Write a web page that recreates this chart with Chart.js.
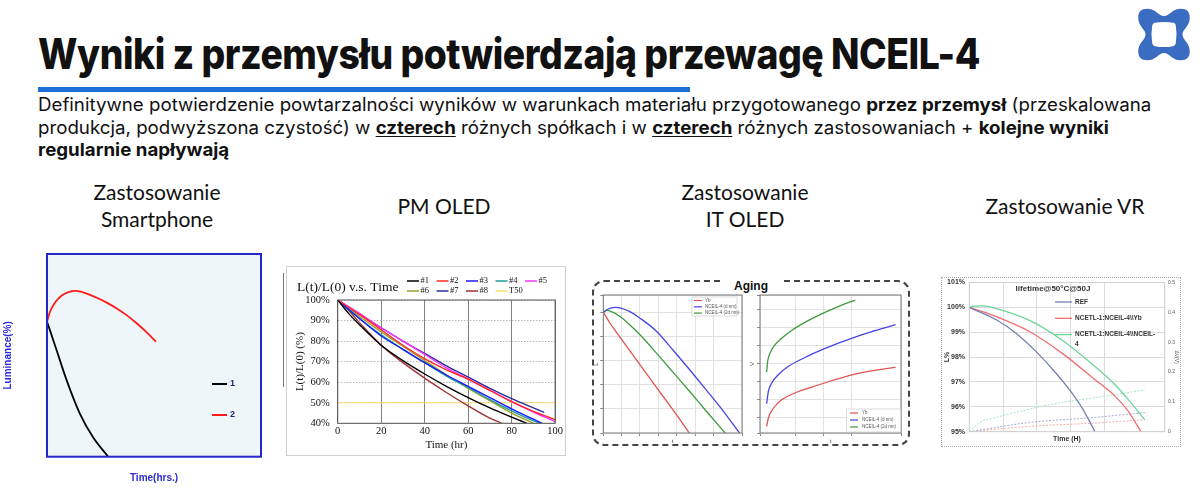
<!DOCTYPE html>
<html>
<head>
<meta charset="utf-8">
<script src="https://cdn.jsdelivr.net/npm/chart.js@4.4.1/dist/chart.umd.min.js"></script>
<style>
  html, body { margin: 0; padding: 0; background: #fff; }
  body { width: 1200px; height: 494px; position: relative; overflow: hidden; font-family: Inter, "Noto Sans", sans-serif; color: #111; }
  .abs { position: absolute; }
  #title { left: 38px; top: 28px; font-size: 42px; font-weight: 800; line-height: 52px; white-space: nowrap; letter-spacing: -0.5px; transform-origin: 0 0; }
  #bar { left: 38px; top: 87px; width: 652px; height: 5px; background: #1f6fd9; }
  .sub { left: 38px; font-size: 18px; line-height: 22px; white-space: nowrap; transform-origin: 0 0; }
  .sub b { font-weight: 700; }
  .sub u { font-weight: 700; text-decoration: underline; text-underline-offset: 2px; }
  .hd { font-family: Lato, "Open Sans", sans-serif; font-size: 21px; line-height: 27px; text-align: center; width: 240px; color: #111; }
  canvas { position: absolute; }
  #card2 { left: 286px; top: 266px; width: 278px; height: 188px; border: 1px solid #d0d0d0; }
  #aging { left: 592px; top: 280px; width: 314px; height: 162px; border: 2px dashed #444; border-radius: 12px; }
  #agingT { left: 721px; top: 279px; width: 60px; text-align: center; font: bold 12px "Liberation Sans", Arial, sans-serif; background: #fff; line-height: 14px; }
  #card4 { left: 941px; top: 277px; width: 238px; height: 168px; border: 1px dotted #aaa; }
</style>
</head>
<body>

<div id="title" class="abs">Wyniki z przemysłu potwierdzają przewagę NCEIL-4</div>
<div id="bar" class="abs"></div>
<svg class="abs" style="left:1136px;top:6px" width="56" height="57" viewBox="0 0 100 100">
  <path fill="#3a6cc2" fill-rule="evenodd" d="M20 4 C36 4 40 17 50 17 C60 17 64 4 80 4 C91 4 96 9 96 20 C96 36 83 40 83 50 C83 60 96 64 96 80 C96 91 91 96 80 96 C64 96 60 83 50 83 C40 83 36 96 20 96 C9 96 4 91 4 80 C4 64 17 60 17 50 C17 40 4 36 4 20 C4 9 9 4 20 4 Z M33 29 Q50 26 67 29 Q71 30 71 34 Q74 50 71 66 Q70 70 66 71 Q50 74 34 71 Q30 70 29 66 Q26 50 29 34 Q30 30 33 29 Z"/>
</svg>

<div id="s1" class="abs sub" style="top:94px">Definitywne potwierdzenie powtarzalności wyników w warunkach materiału przygotowanego <b>przez przemysł</b> (przeskalowana</div>
<div id="s2" class="abs sub" style="top:117px">produkcja, podwyższona czystość) w <u>czterech</u> różnych spółkach i w <u>czterech</u> różnych zastosowaniach + <b>kolejne wyniki</b></div>
<div id="s3" class="abs sub" style="top:139px"><b>regularnie napływają</b></div>

<div class="abs hd" style="left:37px;top:178px">Zastosowanie<br>Smartphone</div>
<div class="abs hd" style="left:324px;top:192px">PM OLED</div>
<div class="abs hd" style="left:625px;top:178px">Zastosowanie<br>IT OLED</div>
<div class="abs hd" style="left:945px;top:192px">Zastosowanie VR</div>

<div class="abs" style="left:283px;top:273px;width:1px;height:114px;background:#777"></div>
<div id="card2" class="abs"></div>
<div id="aging" class="abs"></div>
<div id="card4" class="abs"></div>

<canvas id="c1" width="275" height="250" style="left:0;top:240px"></canvas>
<canvas id="c2" width="278" height="188" style="left:287px;top:267px"></canvas>
<canvas id="c3a" width="156" height="158" style="left:592px;top:288px"></canvas>
<canvas id="c3b" width="160" height="158" style="left:748px;top:288px"></canvas>
<canvas id="c4" width="238" height="172" style="left:942px;top:274px"></canvas>
<div id="agingT" class="abs">Aging</div>

<script>
//----- Data -----//

// Smartphone (luminance % vs time, arbitrary time units)
const smartTime1 = [0, 1.4, 4.5, 9.2, 15.4, 21.6, 28.6];
const smartLum1 = [100, 97.4, 91.5, 82.6, 72.7, 65.7, 60];
const smartTime2 = [0, 1.4, 3.7, 6.9, 10.0, 13.2, 16.2, 20.1, 24.8, 27.9, 32.6, 37.2, 41.9, 46.6, 50.9];
const smartLum2 = [100, 102.9, 105.6, 107.7, 108.7, 109.1, 108.8, 107.9, 106.6, 105.6, 103.9, 101.9, 99.5, 96.8, 94.0];

// PM OLED, L(t)/L(0) in % vs time (hr)
const pmLabels = ['#1', '#2', '#3', '#4', '#5', '#6', '#7', '#8'];
const pmTime1 = [0, 5, 10, 20, 30, 40, 50, 60, 70, 80, 87];
const pmVal1 = [100, 93.5, 88, 78, 70.5, 64, 58, 52.5, 47.5, 43, 40];
const pmTime2 = [0, 10, 20, 30, 40, 50, 60, 70, 80, 90, 100];
const pmVal2 = [100, 93, 85.5, 78, 71.5, 66, 61.5, 56, 50.5, 45.8, 41.8];
const pmTime3 = [0, 10, 20, 30, 40, 50, 60, 70, 80, 90, 94];
const pmVal3 = [100, 91, 82.5, 76, 69.5, 63.5, 58, 52.5, 47, 42, 40];
const pmTime4 = [0, 10, 20, 30, 40, 50, 60, 70, 80, 90, 93.5];
const pmVal4 = [100, 91, 83, 76, 69.5, 63, 57.5, 51.5, 46, 41.2, 40];
const pmTime5 = [0, 10, 20, 30, 40, 50, 60, 70, 80, 90, 100];
const pmVal5 = [100, 93.5, 86.5, 80, 73.5, 67, 61.5, 56, 50.5, 45.5, 40.8];
const pmTime6 = [0, 10, 20, 30, 40, 50, 60, 70, 80, 90];
const pmVal6 = [100, 92, 84.5, 77.5, 70.5, 63.5, 57, 51, 45, 40];
const pmTime7 = [0, 10, 20, 30, 40, 50, 60, 70, 80, 90, 95];
const pmVal7 = [100, 93, 86.5, 80, 74, 68, 62.5, 57, 52, 47.5, 45.3];
const pmTime8 = [0, 5, 10, 20, 30, 40, 50, 60, 70, 75.5];
const pmVal8 = [100, 95, 89, 78, 69.5, 62, 55, 48.5, 42.5, 40];
const pmT50Time = [0, 100];
const pmT50 = [50, 50];

// IT OLED aging: L vs t and V vs t (no units shown)
const agingLabels = ['Yb', 'NCEIL-4 (d nm)', 'NCEIL-4 (2d nm)'];
const ageLTimeYb = [0, 0.36, 0.73, 1.45, 2.18, 2.91, 3.64, 4.18, 4.69];
const ageLYb = [5.0, 4.56, 4.16, 3.40, 2.64, 1.88, 1.12, 0.55, 0];
const ageLTimeD = [0, 0.27, 0.64, 1, 1.45, 2, 2.91, 3.82, 4.73, 5.64, 6.55, 7.42];
const ageLD = [5.0, 5.14, 5.21, 5.17, 5.03, 4.76, 4.21, 3.42, 2.6, 1.76, 0.9, 0];
const ageLTime2D = [0, 0.18, 0.45, 0.91, 1.45, 2, 2.91, 3.82, 4.73, 5.64, 6.64];
const ageL2D = [5.0, 5.08, 5.03, 4.83, 4.48, 4.07, 3.3, 2.5, 1.7, 0.88, 0];
const ageVTimeYb = [0, 0.06, 0.24, 0.53, 1, 1.59, 2.18, 2.76, 3.35, 3.94, 4.55];
const ageVYb = [0.54, 1.0, 1.55, 2.01, 2.38, 2.7, 3.0, 3.27, 3.5, 3.66, 3.79];
const ageVTimeD = [0, 0.06, 0.18, 0.41, 0.76, 1.35, 1.94, 2.53, 3.12, 3.71, 4.29, 4.55];
const ageVD = [1.79, 2.47, 2.93, 3.39, 3.84, 4.34, 4.76, 5.13, 5.47, 5.77, 6.03, 6.15];
const ageVTime2D = [0, 0.035, 0.12, 0.29, 0.53, 0.88, 1.35, 1.94, 2.53, 3.12];
const ageV2D = [3.53, 4.12, 4.58, 5.04, 5.4, 5.83, 6.28, 6.75, 7.15, 7.51];

// VR lifetime@50°C@50J: L% (left) and voltage shift (right)
const vrLabels = ['REF', 'NCETL-1:NCEIL-4\\\\Yb', 'NCETL-1:NCEIL-4\\\\NCEIL-\n4'];
const vrTimeRef = [0, 0.8, 1.39, 1.97, 2.56, 3.0, 3.34, 3.73];
const vrLRef = [100, 99.5, 98.95, 98.23, 97.36, 96.62, 95.95, 94.97];
const vrTimeYb = [0, 0.8, 1.78, 2.75, 3.72, 4.31, 4.7, 5.09];
const vrLYb = [100, 99.63, 99.03, 98.15, 97.09, 96.43, 95.83, 94.97];
const vrTimeN4 = [0, 0.12, 0.41, 0.8, 1.78, 2.75, 3.72, 4.31, 4.7, 5.19];
const vrLN4 = [100, 100.05, 100.06, 99.95, 99.48, 98.68, 97.62, 96.89, 96.3, 95.48];
const vrVTimeN4 = [0, 0.31, 0.8, 1.78, 2.75, 3.72, 5.19];
const vrVN4 = [0, 0.031, 0.048, 0.076, 0.098, 0.114, 0.14];
const vrVTimeRef = [0, 1.78, 3.72, 5.19];
const vrVRef = [0, 0.031, 0.048, 0.064];
const vrVTimeYb = [0, 1.78, 3.72, 5.19];
const vrVYb = [0, 0.018, 0.029, 0.04];

//----- Helpers -----//

const SANS = '"Liberation Sans", Arial, sans-serif';
const SERIF = '"Liberation Serif", "DejaVu Serif", serif';

function pts (xs, ys) {
    return xs.map((x, i) => ({ x: x, y: ys[i] }))
}

function fitWidth (el, w) {
    el.style.transform = 'none'
    el.style.transform = 'scaleX(' + (w / el.scrollWidth) + ')'
    return w / el.scrollWidth
}

// plot background, frame, free texts and a hand placed legend
const deco = {
    id: 'deco',
    beforeDraw (chart, args, o) {
        if (!o.fill) return
        const a = chart.chartArea, ctx = chart.ctx
        ctx.save()
        ctx.fillStyle = o.fill
        ctx.fillRect(a.left, a.top, a.width, a.height)
        ctx.restore()
    },
    afterDraw (chart, args, o) {
        const a = chart.chartArea, ctx = chart.ctx
        ctx.save()
        if (o.frame) {
            ctx.strokeStyle = o.frame
            ctx.lineWidth = o.frameWidth || 1
            ctx.strokeRect(a.left, a.top, a.width, a.height)
        }
        ctx.textBaseline = 'middle'
        ;(o.texts || []).forEach(t => {
            ctx.font = t.font
            ctx.fillStyle = t.color || '#000'
            ctx.textAlign = t.align || 'left'
            ctx.fillText(t.text, t.x, t.y)
        })
        const L = o.legend
        if (L) {
            if (L.box) {
                ctx.fillStyle = 'rgba(255,255,255,0.9)'
                ctx.strokeStyle = '#cccccc'
                ctx.lineWidth = 0.7
                ctx.fillRect(L.box[0], L.box[1], L.box[2], L.box[3])
                ctx.strokeRect(L.box[0], L.box[1], L.box[2], L.box[3])
            }
            const cols = L.cols || 1
            ctx.font = L.font
            ctx.textAlign = 'left'
            chart.data.datasets.filter(d => d.label).forEach((d, i) => {
                const x = L.x + (i % cols) * (L.colW || 0)
                const y = L.y + Math.floor(i / cols) * L.rowH
                ctx.strokeStyle = d.borderColor
                ctx.lineWidth = L.lineWidth || 1.5
                ctx.beginPath()
                ctx.moveTo(x, y)
                ctx.lineTo(x + L.line, y)
                ctx.stroke()
                ctx.fillStyle = L.color
                d.label.split('\n').forEach((s, k) => ctx.fillText(s, x + L.line + L.gap, y + k * (L.lineGap || 0)))
            })
        }
        ctx.restore()
    }
}

Chart.defaults.animation = false
Chart.defaults.responsive = false
Chart.defaults.font.family = SANS
Chart.defaults.plugins.legend.display = false
Chart.defaults.plugins.tooltip.enabled = false
Chart.defaults.elements.point.radius = 0
Chart.defaults.elements.line.borderWidth = 1.5
Chart.defaults.elements.line.cubicInterpolationMode = 'monotone'

function hiddenAxis (extra) {
    return Object.assign({
        type: 'linear',
        ticks: { display: false },
        grid: { display: false, drawTicks: false },
        border: { display: false }
    }, extra)
}

//----- Smartphone -----//

new Chart(document.getElementById('c1'), {
    type: 'line',
    data: {
        datasets: [
            { label: '1', data: pts(smartTime1, smartLum1), borderColor: '#000000', borderWidth: 1.8 },
            { label: '2', data: pts(smartTime2, smartLum2), borderColor: '#ff1a1a', borderWidth: 1.8 }
        ]
    },
    options: {
        layout: { padding: { top: 14, right: 14, left: 0, bottom: 0 } },
        scales: {
            x: hiddenAxis({
                min: 0, max: 100,
                title: { display: true, text: 'Time(hrs.)', color: '#2b2bd0', font: { size: 10, weight: 'bold' }, padding: { top: 0, bottom: 6 } },
                afterFit: s => { s.height = 33.3 }
            }),
            y: hiddenAxis({
                min: 60, max: 120,
                title: { display: true, text: 'Luminance(%)', color: '#2b2bd0', font: { size: 10, weight: 'bold' }, padding: { top: 2, bottom: 0 } },
                afterFit: s => { s.width = 47 }
            })
        },
        plugins: {
            deco: {
                fill: '#eef6fa', frame: '#2626cc', frameWidth: 2,
                legend: { x: 212, y: 144, rowH: 31, line: 15, gap: 3, lineWidth: 2, font: 'bold 9px ' + SANS, color: '#23237a' }
            }
        }
    },
    plugins: [deco]
})

//----- PM OLED -----//

const pmColors = ['#000000', '#ff2a2a', '#1a1aff', '#1f9c9c', '#ff33ff', '#9c9c28', '#2c2ca0', '#a03232']
const pmTimes = [pmTime1, pmTime2, pmTime3, pmTime4, pmTime5, pmTime6, pmTime7, pmTime8]
const pmVals = [pmVal1, pmVal2, pmVal3, pmVal4, pmVal5, pmVal6, pmVal7, pmVal8]
const pmSets = pmLabels.map((lab, i) => ({ label: lab, data: pts(pmTimes[i], pmVals[i]), borderColor: pmColors[i], borderWidth: 1.4 }))
pmSets.push({ label: 'T50', data: pts(pmT50Time, pmT50), borderColor: '#ffdf6e', borderWidth: 1.2, order: 1, cubicInterpolationMode: 'default' })

new Chart(document.getElementById('c2'), {
    type: 'line',
    data: { datasets: pmSets },
    options: {
        layout: { padding: { top: 33, right: 9, left: 0, bottom: 0 } },
        scales: {
            x: {
                type: 'linear', min: 0, max: 100,
                ticks: { stepSize: 20, color: '#111', padding: 2, font: { family: SERIF, size: 10.5 } },
                grid: { color: '#808080', drawTicks: false },
                border: { display: false },
                title: { display: true, text: 'Time (hr)', color: '#111', font: { family: SERIF, size: 11 }, padding: { top: 0, bottom: 3 } },
                afterFit: s => { s.height = 31.7 }
            },
            y: {
                min: 40, max: 100,
                ticks: { stepSize: 10, color: '#111', padding: 8, font: { family: SERIF, size: 10.5 }, callback: v => v + '%' },
                grid: { color: '#b8b8b8', drawTicks: false },
                border: { display: false, dash: [1.5, 1.5] },
                title: { display: true, text: 'L(t)/L(0) (%)', color: '#111', font: { family: SERIF, size: 11 }, padding: { top: 7, bottom: 0 } },
                afterFit: s => { s.width = 50.7 }
            }
        },
        plugins: {
            deco: {
                frame: '#555555',
                texts: [{ text: 'L(t)/L(0) v.s. Time', x: 10, y: 20, font: '13.5px ' + SERIF, color: '#111' }],
                legend: { x: 120, y: 14, cols: 5, colW: 29.5, rowH: 10, line: 12, gap: 1.5, lineWidth: 1.5, font: '8.5px ' + SERIF, color: '#111' }
            }
        }
    },
    plugins: [deco]
})

//----- IT OLED aging -----//

const ageColors = ['#e05252', '#4545e6', '#3d9c3d']

function agingAxes (xMin, xMax, yMin, yMax, yTitle, yWidth) {
    const grid = { color: '#e2e2e2', drawTicks: true, tickLength: 3, tickColor: '#888' }
    return {
        x: {
            type: 'linear', min: xMin, max: xMax,
            ticks: { display: false, stepSize: 1 },
            grid: grid, border: { display: false },
            title: { display: true, text: 't', color: '#444', font: { size: 6 }, padding: { top: 0, bottom: 1.4 } },
            afterFit: s => { s.height = 13 }
        },
        y: {
            min: yMin, max: yMax,
            ticks: { display: false, stepSize: 1 },
            grid: grid, border: { display: false },
            title: { display: true, text: yTitle, color: '#444', font: { size: 6 }, padding: { top: 0.4, bottom: 0 } },
            afterFit: s => { s.width = yWidth }
        }
    }
}

new Chart(document.getElementById('c3a'), {
    type: 'line',
    data: {
        datasets: [
            { label: agingLabels[0], data: pts(ageLTimeYb, ageLYb), borderColor: ageColors[0], borderWidth: 1.3 },
            { label: agingLabels[1], data: pts(ageLTimeD, ageLD), borderColor: ageColors[1], borderWidth: 1.3 },
            { label: agingLabels[2], data: pts(ageLTime2D, ageL2D), borderColor: ageColors[2], borderWidth: 1.3 }
        ]
    },
    options: {
        layout: { padding: { top: 7, right: 6, left: 0, bottom: 0 } },
        scales: agingAxes(0, 7.56, 0, 5.72, 'L', 11.3),
        plugins: {
            deco: {
                frame: '#777777',
                legend: { box: [100, 9, 45, 19], x: 102, y: 12.5, rowH: 6.3, line: 8, gap: 3, lineWidth: 1.2, font: '4.5px ' + SANS, color: '#555' }
            }
        }
    },
    plugins: [deco]
})

new Chart(document.getElementById('c3b'), {
    type: 'line',
    data: {
        datasets: [
            { label: agingLabels[0], data: pts(ageVTimeYb, ageVYb), borderColor: ageColors[0], borderWidth: 1.3 },
            { label: agingLabels[1], data: pts(ageVTimeD, ageVD), borderColor: ageColors[1], borderWidth: 1.3 },
            { label: agingLabels[2], data: pts(ageVTime2D, ageV2D), borderColor: ageColors[2], borderWidth: 1.3 }
        ]
    },
    options: {
        layout: { padding: { top: 7, right: 7, left: 0, bottom: 0 } },
        scales: agingAxes(-0.235, 4.74, 0.17, 7.79, 'V', 12),
        plugins: {
            deco: {
                frame: '#777777',
                legend: { box: [98.7, 121, 54, 23], x: 102, y: 125, rowH: 7, line: 8, gap: 4, lineWidth: 1.2, font: '4.5px ' + SANS, color: '#555' }
            }
        }
    },
    plugins: [deco]
})

//----- VR -----//

new Chart(document.getElementById('c4'), {
    type: 'line',
    data: {
        datasets: [
            { label: vrLabels[0], data: pts(vrTimeRef, vrLRef), borderColor: '#7281b5', borderWidth: 1.3 },
            { label: vrLabels[1], data: pts(vrTimeYb, vrLYb), borderColor: '#f26d6d', borderWidth: 1.3 },
            { label: vrLabels[2], data: pts(vrTimeN4, vrLN4), borderColor: '#6fd49a', borderWidth: 1.3 },
            { data: pts(vrVTimeN4, vrVN4), borderColor: '#a6e3bb', borderWidth: 1, borderDash: [2, 1.5], yAxisID: 'y2' },
            { data: pts(vrVTimeRef, vrVRef), borderColor: '#a3abd0', borderWidth: 1, borderDash: [2, 1.5], yAxisID: 'y2' },
            { data: pts(vrVTimeYb, vrVYb), borderColor: '#f5aaaa', borderWidth: 1, borderDash: [2, 1.5], yAxisID: 'y2' }
        ]
    },
    options: {
        layout: { padding: { top: 6, right: 0, left: 0, bottom: 0 } },
        scales: {
            x: {
                type: 'linear', min: 0, max: 5.78,
                ticks: { display: false, stepSize: 1 },
                grid: { color: '#dcdcdc', drawTicks: false },
                border: { display: false },
                title: { display: true, text: 'Time (H)', color: '#333', font: { size: 7, weight: 'bold' }, padding: { top: 0, bottom: 2.8 } },
                afterFit: s => { s.height = 14.3 }
            },
            y: {
                min: 95, max: 101,
                ticks: { stepSize: 1, color: '#333', padding: 4.3, font: { size: 7, weight: 'bold' }, callback: v => v + '%' },
                grid: { color: '#dcdcdc', drawTicks: false },
                border: { display: false },
                title: { display: true, text: 'L%', color: '#333', font: { size: 7, weight: 'bold' }, padding: { top: 0.8, bottom: 0 } },
                afterFit: s => { s.width = 27.3 }
            },
            y2: {
                position: 'right', min: 0, max: 0.5,
                ticks: { stepSize: 0.1, color: '#555', padding: 3.3, font: { size: 5 } },
                grid: { display: false, drawTicks: false },
                border: { display: false },
                title: { display: true, text: 'ΔV(V)', color: '#555', font: { size: 5 }, padding: { top: 1, bottom: 0 } },
                afterFit: s => { s.width = 15.3 }
            }
        },
        plugins: {
            deco: {
                frame: '#d0d0d0',
                texts: [{ text: 'lifetime@50°C@50J', x: 111, y: 15, font: 'bold 8px ' + SANS, color: '#333', align: 'center' }],
                legend: { x: 113, y: 28, rowH: 16.3, line: 17, gap: 3, lineGap: 9.5, lineWidth: 1.3, font: 'bold 6.5px ' + SANS, color: '#333' }
            }
        }
    },
    plugins: [deco]
})

//----- Fit slide texts -----//

function fitTexts () {
    fitWidth(document.getElementById('title'), 942)
    const k = fitWidth(document.getElementById('s1'), 1113)
    document.getElementById('s2').style.transform = 'scaleX(' + k + ')'
    document.getElementById('s3').style.transform = 'scaleX(' + k + ')'
}
fitTexts()
if (document.fonts) document.fonts.ready.then(fitTexts)
</script>
</body>
</html>
